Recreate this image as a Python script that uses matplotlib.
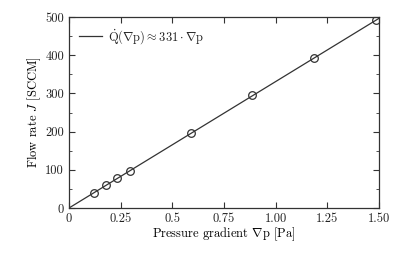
import numpy as np
import matplotlib
matplotlib.use("Agg")
import matplotlib.pyplot as plt

plt.rcParams['font.family'] = 'serif'
plt.rcParams['font.serif'] = ['cmr10']
plt.rcParams['mathtext.fontset'] = 'cm'
plt.rcParams['axes.unicode_minus'] = False
plt.rcParams['text.color'] = '#222222'
plt.rcParams['xtick.labelcolor'] = '#222222'
plt.rcParams['ytick.labelcolor'] = '#222222'

grad_p = [0.121, 0.177, 0.234, 0.293, 0.589, 0.884, 1.184, 1.484]
flow = [39, 59, 78, 98, 196, 295, 393, 492]
slope = 331
x_ticks = [0, 0.25, 0.5, 0.75, 1.0, 1.25, 1.5]
x_ticklabels = ['0', '0.25', '0.5', '0.75', '1.00', '1.25', '1.50']
y_ticks = [0, 100, 200, 300, 400, 500]

fig = plt.figure(figsize=(4.15, 2.58), dpi=100)
ax = fig.add_axes([69/415, 1-208/258, 310/415, 191/258])

xf = np.array([0, 1.5])
ax.plot(xf, slope*xf, color='#333333', lw=0.9,
        label=r'$\dot{\mathrm{Q}}(\nabla\mathrm{p}) \approx 331\cdot\nabla\mathrm{p}$')
ax.plot(grad_p, flow, 'o', mfc='none', mec='#333333', ms=5.5, mew=0.9)

ax.set_xlim(0, 1.5)
ax.set_ylim(0, 500)
ax.set_xticks(x_ticks)
ax.set_xticklabels(x_ticklabels)
ax.set_yticks(y_ticks)
ax.set_yticks(np.arange(50, 500, 100), minor=True)
ax.tick_params(direction='in', top=True, right=True, which='both', labelsize=9, color='#333333')
ax.tick_params(which='major', length=4)
ax.tick_params(which='minor', length=2.5)
for s in ax.spines.values():
    s.set_color('#333333')
    s.set_linewidth(0.9)
ax.set_xlabel(r'Pressure gradient $\nabla$p [Pa]', fontsize=9, labelpad=0)
ax.set_ylabel(r'Flow rate $J$ [SCCM]', fontsize=9, labelpad=2)
ax.legend(loc='upper left', frameon=False, fontsize=9, handlelength=1.8,
          handletextpad=0.5, borderaxespad=0.4)

fig.savefig('out.png', dpi=100)
